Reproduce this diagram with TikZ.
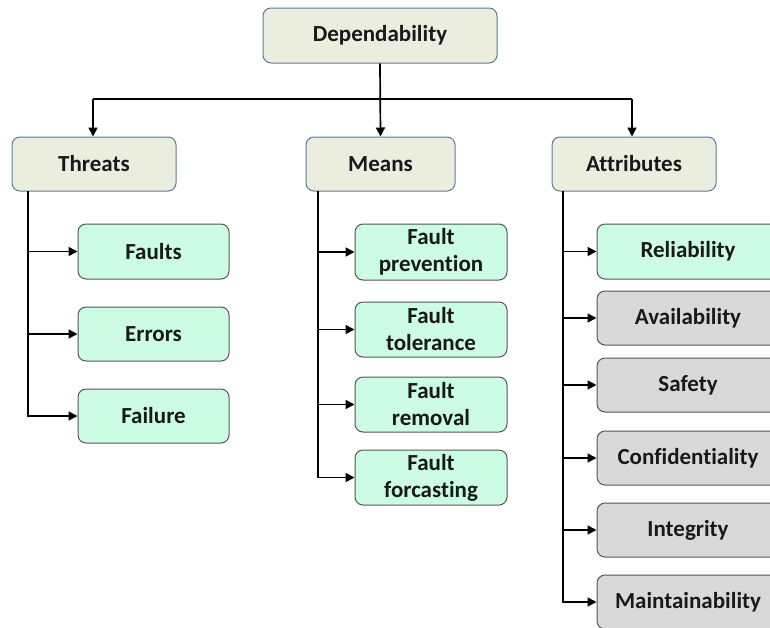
\documentclass[tikz,border=0pt]{standalone}
\usepackage{fontspec}
\setmainfont{Carlito}[Ligatures=NoCommon]
\usetikzlibrary{arrows.meta}
\definecolor{hdrfill}{HTML}{EBEEDF}
\definecolor{hdrdraw}{HTML}{5A7B97}
\definecolor{grnfill}{HTML}{CCFCE4}
\definecolor{gryfill}{HTML}{D9D9D9}
\definecolor{boxdraw}{HTML}{555555}
\begin{document}
\begin{tikzpicture}[x=1pt,y=-1pt,
  base/.style={rounded corners=8pt, line width=1pt, align=center, inner sep=0pt,
    font=\fontsize{23}{27}\selectfont\bfseries, text=black!90},
  hdr/.style={base, fill=hdrfill, draw=hdrdraw},
  grn/.style={base, fill=grnfill, draw=boxdraw},
  gry/.style={base, fill=gryfill, draw=boxdraw},
  conn/.style={line width=1.7pt, black},
  arr/.style={conn, -{Triangle[length=9pt,width=9pt]}}]
\useasboundingbox (0,0) rectangle (770,627);
\clip (0,0) rectangle (770,627);
% headers
\node[hdr, minimum width=234pt, minimum height=55pt] (dep) at (380,35.5) {Dependability};
\node[hdr, minimum width=164pt, minimum height=54pt] (thr) at (94,164) {Threats};
\node[hdr, minimum width=149pt, minimum height=54pt] (mea) at (380.5,164) {Means};
\node[hdr, minimum width=164pt, minimum height=54pt] (att) at (634,164) {Attributes};
% threats
\node[grn, minimum width=151pt, minimum height=55pt] (fau) at (153.5,251.5) {Faults};
\node[grn, minimum width=151pt, minimum height=54pt] (err) at (153.5,334) {Errors};
\node[grn, minimum width=151pt, minimum height=54pt] (fai) at (153.5,416) {Failure};
% means
\node[grn, minimum width=152pt, minimum height=56pt] (fpr) at (431,252) {Fault\\prevention};
\node[grn, minimum width=152pt, minimum height=55pt] (fto) at (431,329.5) {Fault\\tolerance};
\node[grn, minimum width=152pt, minimum height=55pt] (frm) at (431,404.5) {Fault\\removal};
\node[grn, minimum width=152pt, minimum height=55pt] (ffo) at (431,477.5) {Fault\\forcasting};
% attributes
\node[grn, minimum width=182pt, minimum height=55pt] (rel) at (688,251.5) {Reliability};
\node[gry, minimum width=182pt, minimum height=54pt] (ava) at (688,318) {Availability};
\node[gry, minimum width=182pt, minimum height=54pt] (saf) at (688,385) {Safety};
\node[gry, minimum width=182pt, minimum height=54pt] (con) at (688,458) {Confidentiality};
\node[gry, minimum width=182pt, minimum height=54pt] (int) at (688,530) {Integrity};
\node[gry, minimum width=182pt, minimum height=54pt] (mai) at (688,602) {Maintainability};
% top connectors
\coordinate (hl) at (93,99);
\coordinate (hr) at (632,99);
\draw[arr] (dep.south) -- (mea.north);
\draw[conn] (hl) -- (hr);
\draw[arr] (hl) -- (hl |- thr.north);
\draw[arr] (hr) -- (hr |- att.north);
% branch spines
\coordinate (tt) at (28,191);
\coordinate (mt) at (318,191);
\coordinate (at) at (563,191);
\draw[arr] (tt) |- (fai.west);
\draw[arr] (tt |- fau.west) -- (fau.west);
\draw[arr] (tt |- err.west) -- (err.west);
\draw[arr] (mt) |- (ffo.west);
\draw[arr] (mt |- fpr.west) -- (fpr.west);
\draw[arr] (mt |- fto.west) -- (fto.west);
\draw[arr] (mt |- frm.west) -- (frm.west);
\draw[arr] (at) |- (mai.west);
\draw[arr] (at |- rel.west) -- (rel.west);
\draw[arr] (at |- ava.west) -- (ava.west);
\draw[arr] (at |- saf.west) -- (saf.west);
\draw[arr] (at |- con.west) -- (con.west);
\draw[arr] (at |- int.west) -- (int.west);
\end{tikzpicture}
\end{document}
